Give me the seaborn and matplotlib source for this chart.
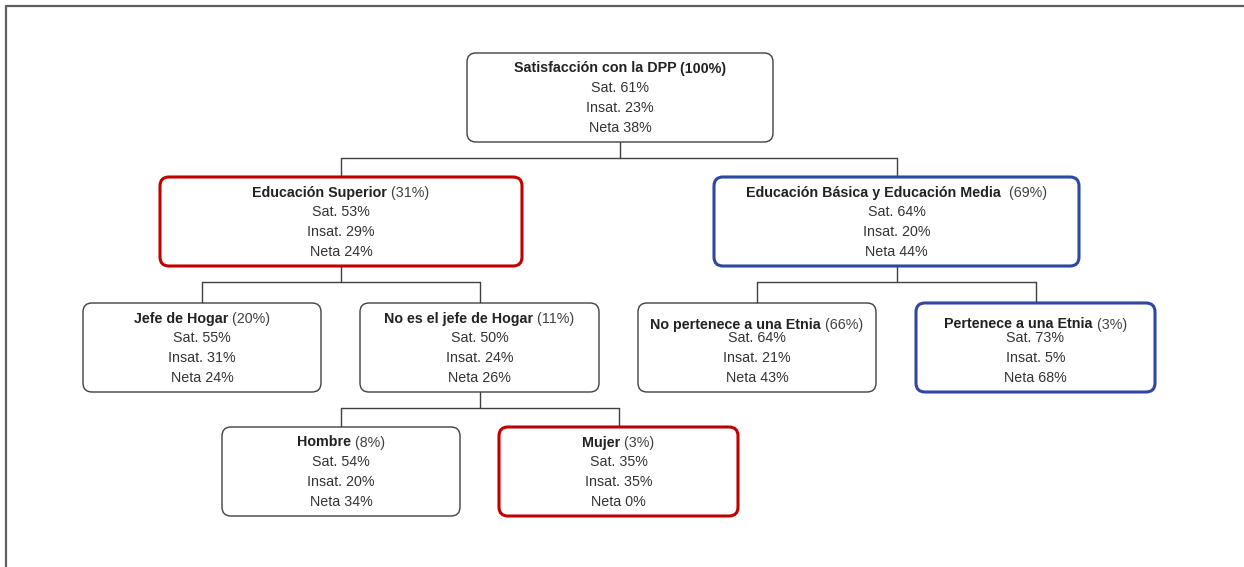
"""
Árbol de segmentación: satisfacción con la DPP por educación, jefatura de hogar,
etnia y sexo. Guarda out.png (1244x567).
"""

import matplotlib
matplotlib.use("Agg")
import matplotlib.pyplot as plt
from matplotlib.patches import FancyBboxPatch
import seaborn as sns

# Node data
names = ["Satisfacción con la DPP", "Educación Superior",
         "Educación Básica y Educación Media ", "Jefe de Hogar",
         "No es el jefe de Hogar", "No pertenece a una Etnia",
         "Pertenece a una Etnia", "Hombre", "Mujer"]
shares = [100, 31, 69, 20, 11, 66, 3, 8, 3]
sat = [61, 53, 64, 55, 50, 64, 73, 54, 35]
insat = [23, 29, 20, 31, 24, 21, 5, 20, 35]
neta = [38, 24, 44, 24, 26, 43, 68, 34, 0]
parents = [None, 0, 0, 1, 1, 2, 2, 4, 4]
highlight = [None, "red", "blue", None, None, None, "blue", None, "red"]

# Layout (pixel units)
center_x = [620, 341, 896.5, 202, 479.5, 757, 1035.5, 341, 618.5]
top_y = [53, 177, 177, 303, 303, 303, 303, 427, 427]
box_w = [306, 362, 365, 238, 239, 238, 239, 238, 239]
box_h = 89
title_gap = [20, 20, 20, 20, 20, 14, 14, 20, 20]

edge_colors = {None: "#404040", "red": "#C00000", "blue": "#2E47A0"}
edge_widths = {None: 1.0, "red": 2.2, "blue": 2.2}
fs = 10.3

sns.set_theme(style="white")
plt.rcParams["font.family"] = ["Liberation Sans", "DejaVu Sans"]

fig = plt.figure(figsize=(12.44, 5.67), dpi=100)
ax = fig.add_axes([0, 0, 1, 1])
ax.set_xlim(0, 1244)
ax.set_ylim(567, 0)
ax.axis("off")
renderer = fig.canvas.get_renderer()

# outer frame (top and left only)
ax.plot([6, 6, 1244], [567, 6, 6], color="#5f5f5f", lw=1.6, solid_capstyle="butt")

# connectors
line_kw = dict(color="#404040", lw=1.0)
for p in sorted(set(x for x in parents if x is not None)):
    kids = [i for i, q in enumerate(parents) if q == p]
    bottom = top_y[p] + box_h
    mid = bottom + 16
    ax.plot([center_x[p], center_x[p]], [bottom, mid], **line_kw)
    ax.plot([center_x[kids[0]], center_x[kids[-1]]], [mid, mid], **line_kw)
    for k in kids:
        ax.plot([center_x[k], center_x[k]], [mid, top_y[k]], **line_kw)

# boxes and labels
for i, name in enumerate(names):
    x0 = center_x[i] - box_w[i] / 2
    box = FancyBboxPatch((x0, top_y[i]), box_w[i], box_h,
                         boxstyle="round,pad=0,rounding_size=9",
                         facecolor="white", edgecolor=edge_colors[highlight[i]],
                         lw=edge_widths[highlight[i]], zorder=3)
    ax.add_patch(box)

    cy = top_y[i] + box_h / 2
    y_title = cy - 10 - title_gap[i] + 5
    t1 = ax.text(0, y_title, name, fontsize=fs, fontweight="bold",
                 color="#222222", ha="left", va="baseline", zorder=4)
    t2 = ax.text(0, y_title, f" ({shares[i]}%)", fontsize=fs,
                 fontweight="bold" if i == 0 else "normal",
                 color="#222222" if i == 0 else "#404040",
                 ha="left", va="baseline", zorder=4)
    w1 = t1.get_window_extent(renderer).width
    w2 = t2.get_window_extent(renderer).width
    start = center_x[i] - (w1 + w2) / 2
    t1.set_x(start)
    t2.set_x(start + w1)

    lines = [f"Sat. {sat[i]}%", f"Insat. {insat[i]}%", f"Neta {neta[i]}%"]
    for j, txt in enumerate(lines):
        ax.text(center_x[i], cy - 10 + 20 * j + 5, txt, fontsize=fs,
                color="#333333", ha="center", va="baseline", zorder=4)

fig.savefig("out.png", dpi=100)
